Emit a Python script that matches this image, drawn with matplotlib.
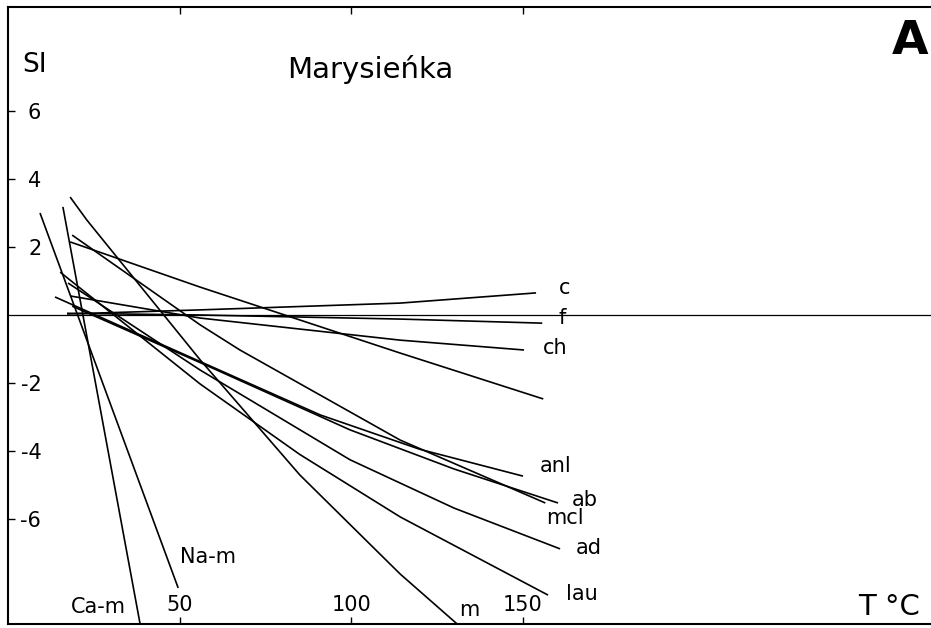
"""
Marysieńka: индексы насыщения (SI) минералов в зависимости от температуры.
"""
import matplotlib
matplotlib.use("Agg")
import matplotlib.pyplot as plt

# Кривые SI(T), значения
c_t = [17.2, 56, 114.3, 153.9]
c_si = [0.03, 0.15, 0.35, 0.65]

f_t = [17.2, 56, 114.3, 155.7]
f_si = [0.05, 0.0, -0.12, -0.24]

ch_t = [18.1, 56, 114.3, 150.4]
ch_si = [0.56, -0.09, -0.74, -1.03]

q_t = [18.1, 56, 114.3, 156.0]          # кривая без подписи
q_si = [2.15, 0.82, -1.12, -2.47]

anl_t = [13.7, 56, 91, 120, 150.1]
anl_si = [0.53, -1.37, -2.94, -3.95, -4.74]

ab_t = [18.7, 56, 99.7, 130, 160.3]
ab_si = [0.26, -1.40, -3.38, -4.53, -5.53]

mcl_t = [18.7, 56, 67.6, 114.3, 156.6]
mcl_si = [2.35, -0.29, -1.03, -3.68, -5.53]

ad_t = [17.5, 56, 99.7, 130, 160.9]
ad_si = [0.94, -1.62, -4.26, -5.68, -6.88]

lau_t = [15.2, 47.2, 56, 85, 114.3, 157.4]
lau_si = [1.26, -1.32, -2.03, -4.10, -5.94, -8.24]

m_t = [18.1, 23, 56, 85, 114.3, 130.9]
m_si = [3.47, 2.79, -1.32, -4.70, -7.62, -9.09]

nam_t = [9.33, 49.6]
nam_si = [3.0, -8.03]

cam_t = [16.0, 38.5]
cam_si = [3.18, -9.09]

x_ticks = [50, 100, 150]
x_labels = ["50", "100", "150"]
y_ticks = [-6, -4, -2, 2, 4, 6]
y_labels = ["-6", "-4", "-2", "2", "4", "6"]

curves = [
    (c_t, c_si), (f_t, f_si), (ch_t, ch_si), (q_t, q_si),
    (anl_t, anl_si), (ab_t, ab_si), (mcl_t, mcl_si), (ad_t, ad_si),
    (lau_t, lau_si), (m_t, m_si), (nam_t, nam_si), (cam_t, cam_si),
]

# Подписи кривых (положение в пикселях исходного рисунка)
curve_labels = [
    ("c", 565, 288), ("f", 562, 318), ("ch", 555, 348),
    ("anl", 556, 466), ("ab", 585, 500), ("mcl", 565, 518),
    ("ad", 589, 548), ("lau", 582, 594), ("m", 469, 610),
    ("Na-m", 208, 557), ("Ca-m", 98, 607),
]

W, H = 931, 628
AX_L, AX_R, AX_T, AX_B = 8, 931, 7, 624

plt.rcParams["font.family"] = ["DejaVu Sans"]

fig = plt.figure(figsize=(W / 100, H / 100), dpi=100)
ax = fig.add_axes([AX_L / W, 1 - AX_B / H, (AX_R - AX_L) / W, (AX_B - AX_T) / H])


def px(x, y):
    """Пиксели рисунка -> доли осей."""
    return (x - AX_L) / (AX_R - AX_L), (AX_B - y) / (AX_B - AX_T)


for t, si in curves:
    ax.plot(t, si, color="black", linewidth=1.2, solid_capstyle="butt",
            solid_joinstyle="round")

ax.axhline(0, color="black", linewidth=0.9)

ax.set_xlim(0, 269)
ax.set_ylim(-9.09, 9.06)

ax.set_xticks(x_ticks)
ax.set_xticklabels(x_labels)
ax.set_yticks(y_ticks)
ax.set_yticklabels(y_labels)
ax.tick_params(axis="y", direction="in", length=5, width=1, pad=-24, labelsize=15)
ax.tick_params(axis="x", direction="in", length=5, width=1, pad=-21, labelsize=15, top=True)

for side in ["left", "top", "bottom"]:
    ax.spines[side].set_linewidth(1.5)
ax.spines["right"].set_visible(False)

for text, x, y in curve_labels:
    ax.text(*px(x, y), text, transform=ax.transAxes, ha="center", va="center", fontsize=15)

ax.text(*px(35, 65), "SI", transform=ax.transAxes, ha="center", va="center", fontsize=19)
ax.text(*px(370, 70), "Marysieńka", transform=ax.transAxes, ha="center", va="center", fontsize=21)
ax.text(*px(910, 41), "A", transform=ax.transAxes, ha="center", va="center", fontsize=34, fontweight="bold")
ax.text(*px(889, 607), "T °C", transform=ax.transAxes, ha="center", va="center", fontsize=21)

plt.savefig("out.png", dpi=100)
plt.close()
